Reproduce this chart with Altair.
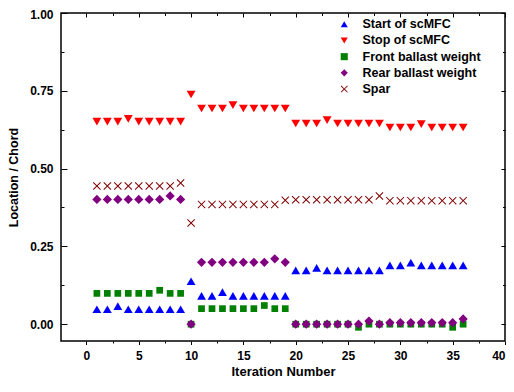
import altair as alt
import pandas as pd

iterations = list(range(1, 37))

start_scmfc = [0.048, 0.048, 0.058, 0.048, 0.048, 0.048, 0.048, 0.048, 0.048,
               0.138,
               0.091, 0.091, 0.103, 0.091, 0.091, 0.091, 0.091, 0.091, 0.091,
               0.173, 0.173, 0.181, 0.173, 0.173, 0.173, 0.173, 0.173, 0.173,
               0.189, 0.189, 0.198, 0.189, 0.189, 0.189, 0.189, 0.189]
stop_scmfc = [0.651, 0.651, 0.651, 0.660, 0.651, 0.651, 0.651, 0.651, 0.651,
              0.738,
              0.693, 0.693, 0.693, 0.704, 0.693, 0.693, 0.693, 0.693, 0.693,
              0.645, 0.645, 0.645, 0.656, 0.645, 0.645, 0.645, 0.645, 0.645,
              0.632, 0.632, 0.632, 0.643, 0.632, 0.632, 0.632, 0.632]
front_ballast = [0.099, 0.099, 0.099, 0.099, 0.099, 0.099, 0.109, 0.099, 0.099,
                 0.0,
                 0.050, 0.050, 0.050, 0.050, 0.050, 0.050, 0.060, 0.050, 0.050,
                 0.0, 0.0, 0.0, 0.0, 0.0, 0.0, -0.010, 0.0, 0.0,
                 0.0, 0.0, 0.0, 0.0, 0.0, 0.0, -0.010, 0.0]
rear_ballast = [0.401, 0.401, 0.401, 0.401, 0.401, 0.401, 0.401, 0.412, 0.401,
                0.0,
                0.199, 0.199, 0.199, 0.199, 0.199, 0.199, 0.199, 0.210, 0.199,
                0.0, 0.0, 0.0, 0.0, 0.0, 0.0, 0.0, 0.010, 0.0,
                0.005, 0.005, 0.005, 0.005, 0.005, 0.005, 0.005, 0.017]
spar = [0.444, 0.444, 0.444, 0.444, 0.444, 0.444, 0.444, 0.444, 0.454,
        0.325,
        0.385, 0.385, 0.385, 0.385, 0.385, 0.385, 0.385, 0.385, 0.398,
        0.400, 0.400, 0.400, 0.400, 0.400, 0.400, 0.400, 0.400, 0.412,
        0.397, 0.397, 0.397, 0.397, 0.397, 0.397, 0.397, 0.397]

series_names = ["Start of scMFC", "Stop of scMFC", "Front ballast weight",
                "Rear ballast weight", "Spar"]
series_values = [start_scmfc, stop_scmfc, front_ballast, rear_ballast, spar]
colors = ["#0000FF", "#FF0000", "#008000", "#800080", "#800000"]
x_path = ("M0,-0.18L0.82,-1L1,-0.82L0.18,0L1,0.82L0.82,1L0,0.18L-0.82,1"
          "L-1,0.82L-0.18,0L-1,-0.82L-0.82,-1Z")
shapes = ["triangle-up", "triangle-down", "square", "diamond", x_path]
sizes = [78, 78, 45, 85, 64]

x_ticks = [0, 2.5, 5, 7.5, 10, 12.5, 15, 17.5, 20, 22.5, 25, 27.5, 30, 32.5, 35, 37.5, 40]
y_ticks = [0, 0.125, 0.25, 0.375, 0.5, 0.625, 0.75, 0.875, 1.0]

rows = []
for name, vals in zip(series_names, series_values):
    for it, v in zip(iterations, vals):
        rows.append({"Iteration": it, "Value": v, "Series": name})
df = pd.DataFrame(rows)

FONT = "Liberation Sans"
x_scale = alt.Scale(domain=[-2.43, 40], nice=False, zero=False)
y_scale = alt.Scale(domain=[-0.054, 1.0], nice=False, zero=False)

x_major = "datum.value % 5 == 0"
y_major = "abs(datum.value * 4 - round(datum.value * 4)) < 0.001"

legend = alt.Legend(title=None, orient="none", legendX=277, legendY=5,
                    labelFont=FONT, labelFontSize=12.5, labelFontWeight="bold",
                    labelColor="black", symbolSize=50, symbolStrokeWidth=0,
                    rowPadding=3.2, labelOffset=12, padding=0)

x_enc = alt.X("Iteration:Q", scale=x_scale,
              axis=alt.Axis(orient="bottom", values=x_ticks, domain=False,
                            labelExpr=f"{x_major} ? format(datum.value, 'd') : ''",
                            labelFlush=True, labelOverlap=False,
                            tickSize={"expr": f"{x_major} ? 3.5 : 2"},
                            tickColor="black", tickWidth=1,
                            labelPadding=5.5, labelFont=FONT, labelFontSize=12,
                            labelFontWeight="bold", labelColor="black",
                            title="Iteration Number", titleFont=FONT,
                            titleFontSize=13, titleFontWeight="bold",
                            titleColor="black", titlePadding=4.5, grid=False))
y_enc = alt.Y("Value:Q", scale=y_scale,
              axis=alt.Axis(orient="left", values=y_ticks, domain=False,
                            labelExpr=f"{y_major} ? format(datum.value, '.2f') : ''",
                            labelFlush=False, labelOverlap=False,
                            labelOffset={"expr": "datum.value == 1 ? 1.5 : 0"},
                            tickSize={"expr": f"{y_major} ? -6 : -3"},
                            tickColor="black", tickWidth=1,
                            labelPadding=14, labelFont=FONT, labelFontSize=12,
                            labelFontWeight="bold", labelColor="black",
                            title="Location / Chord", titleFont=FONT,
                            titleFontSize=12.5, titleFontWeight="bold",
                            titleColor="black", titlePadding=9, grid=False))
color_enc = alt.Color("Series:N", scale=alt.Scale(domain=series_names, range=colors),
                      legend=legend)
shape_enc = alt.Shape("Series:N", scale=alt.Scale(domain=series_names, range=shapes),
                      legend=legend)

series_layers = []
for name, sz in zip(series_names, sizes):
    series_layers.append(
        alt.Chart(df).transform_filter(alt.datum.Series == name)
        .mark_point(filled=True, opacity=1, strokeWidth=0, size=sz)
        .encode(x=x_enc, y=y_enc, color=color_enc, shape=shape_enc)
    )
points = alt.layer(*series_layers)

ghost = alt.Chart(df).mark_point(opacity=0).encode(
    x=alt.X("Iteration:Q", scale=x_scale,
            axis=alt.Axis(orient="top", values=x_ticks, labels=False, domain=False,
                          title=None, grid=False, tickColor="black",
                          tickSize={"expr": f"{x_major} ? -4 : -2.5"})),
    y=alt.Y("Value:Q", scale=y_scale,
            axis=alt.Axis(orient="right", values=y_ticks, labels=False, domain=False,
                          title=None, grid=False, tickColor="black",
                          tickSize={"expr": f"{y_major} ? -4 : -2.5"})),
)

chart = alt.layer(points, ghost).resolve_axis(
    x="independent", y="independent"
).properties(
    width=444, height=328,
    autosize=alt.AutoSizeParams(type="none"),
    padding={"left": 53, "top": 5, "right": 1, "bottom": 37},
).configure_view(stroke="black", strokeWidth=1.5).configure_legend(
    labelFont=FONT, labelFontSize=12.5, labelFontWeight="bold", labelColor="black",
    symbolSize=50, symbolStrokeWidth=0
)

chart.save("out.html", embed_options={"renderer": "svg", "actions": False})
